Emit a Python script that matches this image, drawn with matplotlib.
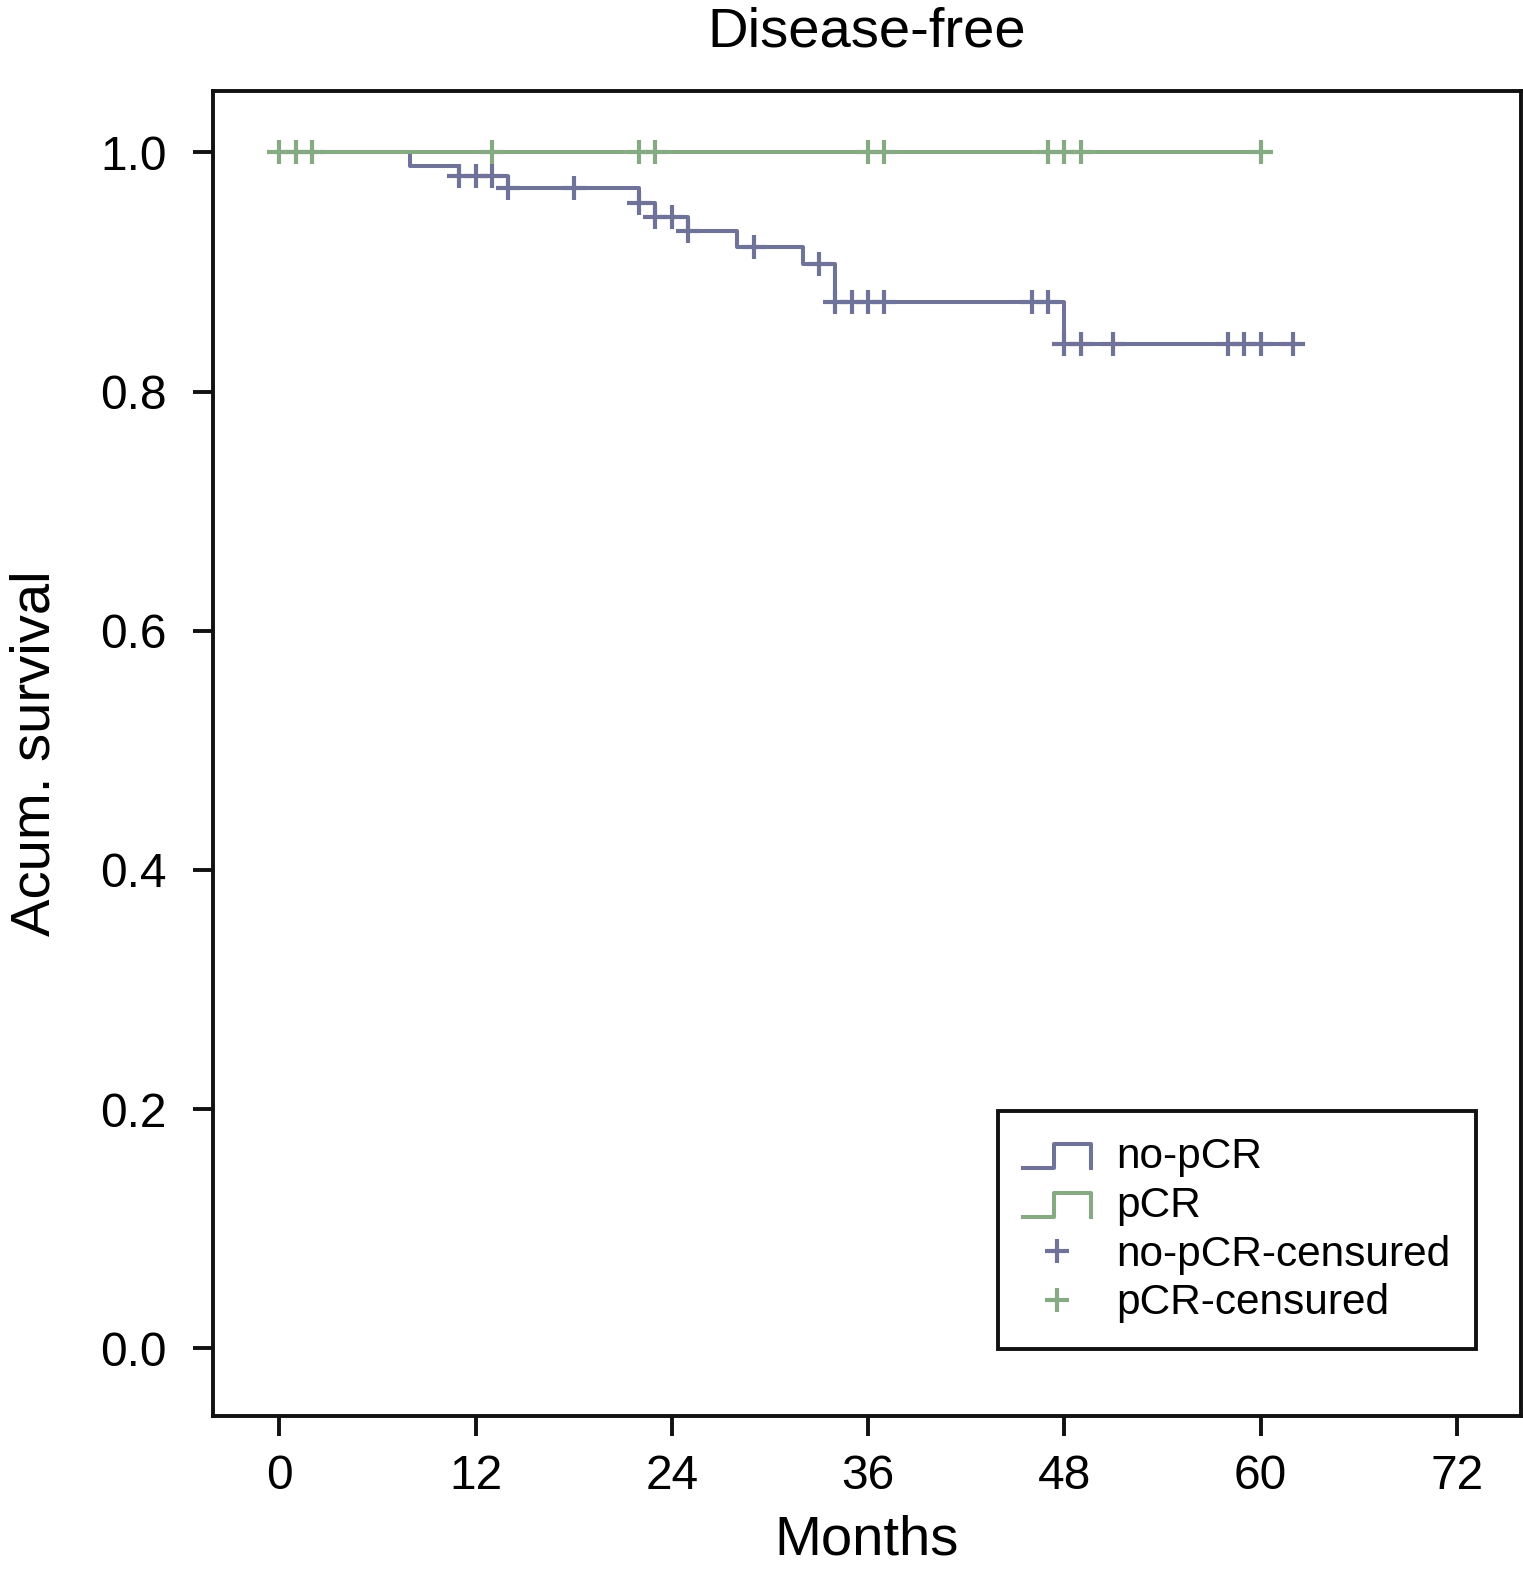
import numpy as np
import matplotlib
matplotlib.use('Agg')
import matplotlib.pyplot as plt
from matplotlib.lines import Line2D
from matplotlib.legend_handler import HandlerBase


# ===== Data =====
# no-pCR: step times (months) and survival level after each step
nopcr_times = [0, 8, 11, 14, 22, 23, 25, 28, 32, 34, 48, 62]
nopcr_surv = [1.0, 0.989, 0.980, 0.970, 0.958, 0.946, 0.934, 0.921, 0.907, 0.875, 0.840, 0.840]
nopcr_censored = [11, 12, 13, 14, 18, 22, 23, 24, 25, 29, 33, 34, 35, 36, 37,
                  46, 47, 48, 49, 51, 58, 59, 60, 62]

# pCR: no events
pcr_times = [0, 60]
pcr_surv = [1.0, 1.0]
pcr_censored = [0, 1, 2, 13, 22, 23, 36, 37, 47, 48, 49, 60]

x_ticks = [0, 12, 24, 36, 48, 60, 72]
y_ticks = [0.0, 0.2, 0.4, 0.6, 0.8, 1.0]

blue = '#6f7399'
green = '#86aa82'


def surv_at(times, surv, t):
    # value of the KM step function right after time t
    idx = np.searchsorted(times, t, side='right') - 1
    return np.array(surv)[idx]


class StepHandler(HandlerBase):
    # legend icon shaped like  _|‾|
    def create_artists(self, legend, orig_handle, xdescent, ydescent,
                       width, height, fontsize, trans):
        x0 = -xdescent
        xs = [x0, x0 + 0.45 * width, x0 + 0.45 * width, x0 + width, x0 + width]
        ylo = -ydescent + 0.0 * height
        yhi = -ydescent + 0.8 * height
        ys = [ylo, ylo, yhi, yhi, ylo]
        ln = Line2D(xs, ys, color=orig_handle.get_color(),
                    lw=orig_handle.get_linewidth())
        ln.set_transform(trans)
        return [ln]


plt.rcParams['font.family'] = ['Liberation Sans', 'DejaVu Sans']

fig = plt.figure(figsize=[15.23, 15.81], dpi=100)
ax = fig.add_axes([0.1399, 0.1044, 0.8588, 0.838])

lw = 2.9
l_nopcr, = ax.step(nopcr_times, nopcr_surv, where='post', color=blue, lw=lw)
l_pcr, = ax.step(pcr_times, pcr_surv, where='post', color=green, lw=lw)

c_nopcr, = ax.plot(nopcr_censored, surv_at(nopcr_times, nopcr_surv, nopcr_censored),
                   ls='none', marker='+', ms=17, mew=3, color=blue)
c_pcr, = ax.plot(pcr_censored, surv_at(pcr_times, pcr_surv, pcr_censored),
                 ls='none', marker='+', ms=17, mew=3, color=green)

ax.set_xlim(-4.05, 75.93)
ax.set_ylim(-0.0566, 1.0513)
ax.set_xticks(x_ticks)
ax.set_yticks(y_ticks)
ax.set_yticklabels([f'{v:.1f}' for v in y_ticks])

ax.tick_params(direction='out', length=14.4, width=2.8, labelsize=34.5, color='#111111')
ax.tick_params(axis='x', pad=13)
ax.tick_params(axis='y', pad=19)
for s in ax.spines.values():
    s.set_linewidth(2.8)
    s.set_color('#111111')

ax.set_title('Disease-free', fontsize=40.5, pad=32)
ax.set_xlabel('Months', fontsize=40.5, labelpad=11)
ax.set_ylabel('Acum. survival', fontsize=40.5, labelpad=28)

leg = ax.legend([l_nopcr, l_pcr, c_nopcr, c_pcr],
                ['no-pCR', 'pCR', 'no-pCR-censured', 'pCR-censured'],
                handler_map={l_nopcr: StepHandler(), l_pcr: StepHandler()},
                loc='lower right', bbox_to_anchor=(0.9656, 0.0506),
                fontsize=30.5, fancybox=False, framealpha=1, edgecolor='#111111',
                handlelength=1.6, handletextpad=0.6, labelspacing=0.21,
                borderpad=0.6, borderaxespad=0)
leg.get_frame().set_linewidth(2.8)

fig.savefig('out.png', dpi=100)
